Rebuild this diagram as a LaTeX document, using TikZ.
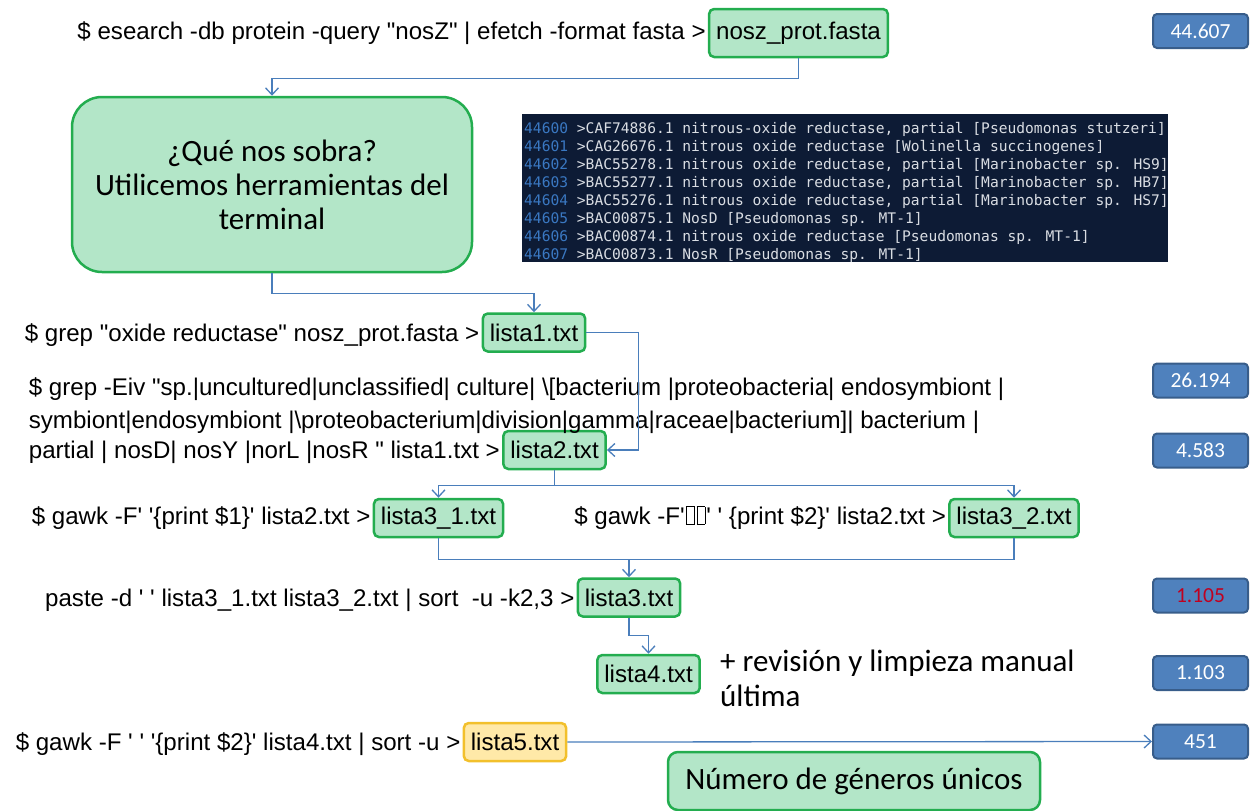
\documentclass[tikz,border=0pt]{standalone}
\usepackage{fontspec}
\setmainfont{Liberation Sans}
\newfontfamily\calfont{Carlito}
\newfontfamily\termfont{DejaVu Sans Mono}
\usetikzlibrary{arrows.meta,positioning}
\definecolor{fillgreen}{HTML}{B3E6C8}
\definecolor{edgegreen}{HTML}{23AD4F}
\definecolor{fillyellow}{HTML}{FFE9A8}
\definecolor{edgeyellow}{HTML}{F2C02C}
\definecolor{numfill}{HTML}{4F81BD}
\definecolor{numedge}{HTML}{385D8A}
\definecolor{numred}{HTML}{C00020}
\definecolor{link}{HTML}{4A7EBB}
\definecolor{termbg}{HTML}{0D1B35}
\definecolor{termnum}{HTML}{3A78C2}
\definecolor{termtxt}{HTML}{D9DDE3}
\newcommand{\sq}{\textquotesingle}
\newcommand{\dq}{\textquotedbl}
\newcommand{\tofu}{\kern1pt\vbox{\hrule height0.8pt\hbox{\vrule width0.8pt height0.7em\hskip0.3em\vrule width0.8pt}\hrule height0.8pt}\kern1pt}

\begin{document}
\begin{tikzpicture}[x=1pt,y=-1pt,
  cmd/.style={font=\fontsize{24.1}{31}\selectfont,inner sep=0pt},
  file/.style={draw=edgegreen,fill=fillgreen,line width=2.5pt,rounded corners=5pt,
               font=\fontsize{24.1}{31}\selectfont,inner xsep=7pt,minimum height=38pt},
  last/.style={file,draw=edgeyellow,fill=fillyellow},
  note/.style={draw=edgegreen,fill=fillgreen,line width=2.5pt,align=center,
               font=\calfont\fontsize{31}{34}\selectfont},
  num/.style={draw=numedge,fill=numfill,line width=2pt,rounded corners=4pt,text=white,
              minimum width=95pt,minimum height=34pt,font=\calfont\fontsize{21.5}{24}\selectfont},
  term/.style={font=\termfont\fontsize{14.6}{18}\selectfont,text=termtxt,inner sep=0pt},
  link/.style={draw=link,line width=1.3pt},
  ar/.style={link,-{Straight Barb[length=7pt,width=13pt]}}
]
\useasboundingbox (0,0) rectangle (1251,811);

% files produced at each step
\node[file,minimum height=48pt] (nosz) at (798.5,33) {nosz\_prot.fasta};
\node[file] (l1)  at (534,332.5) {lista1.txt};
\node[file] (l2)  at (554.5,450) {lista2.txt};
\node[file] (l31) at (438.5,518) {lista3\_1.txt};
\node[file] (l32) at (1014,518) {lista3\_2.txt};
\node[file] (l3)  at (629,597.5) {lista3.txt};
\node[file] (l4)  at (648.5,674) {lista4.txt};
\node[last] (l5)  at (515,742) {lista5.txt};

% commands
\node[cmd,anchor=base east] (c0) at ([xshift=-2pt]nosz.base west)
  {\$ esearch -db protein -query \dq nosZ\dq{} | efetch -format fasta >};
\node[cmd,anchor=base east] (c1) at ([xshift=-2pt]l1.base west)
  {\$ grep \dq oxide reductase\dq{} nosz\_prot.fasta >};
\node[cmd,anchor=base east] (g3) at ([xshift=-2pt]l2.base west)
  {partial | nosD| nosY |norL |nosR \dq{} lista1.txt >};
\node[cmd,anchor=base west] (g2) at ([yshift=30pt]g3.base west)
  {symbiont|endosymbiont |\textbackslash proteobacterium|division|gamma|raceae|bacterium]| bacterium |};
\node[cmd,anchor=base west] (g1) at ([yshift=33pt]g2.base west)
  {\$ grep -Eiv \dq sp.|uncultured|unclassified| culture| \textbackslash[bacterium |proteobacteria| endosymbiont |};
\node[cmd,anchor=base east] (c31) at ([xshift=-2pt]l31.base west)
  {\$ gawk -F\sq{} \sq\{print \$1\}\sq{} lista2.txt >};
\node[cmd,anchor=base east] (c32) at ([xshift=-2pt]l32.base west)
  {\$ gawk -F\sq\tofu\tofu\sq{} \sq{} \{print \$2\}\sq{} lista2.txt >};
\node[cmd,anchor=base east] (c3) at ([xshift=-2pt]l3.base west)
  {paste -d \sq{} \sq{} lista3\_1.txt lista3\_2.txt | sort\ \ -u -k2,3 >};
\node[cmd,anchor=base east] (c5) at ([xshift=-2pt]l5.base west)
  {\$ gawk -F \sq{} \sq{} \sq\{print \$2\}\sq{} lista4.txt | sort -u >};

% comments
\node[note,rounded corners=30pt,minimum width=400pt,minimum height=175pt] (qbox) at (272,184.5)
  {¿Qué nos sobra?\\Utilicemos herramientas del\\terminal};
\node[note,rounded corners=10pt,minimum width=372pt,minimum height=58pt] (genus) at (854,781)
  {Número de géneros únicos};
\node[anchor=west,align=left,inner sep=0pt,font=\calfont\fontsize{31}{35}\selectfont] (rev) at (720,678)
  {+ revisión y limpieza manual\\última};

% terminal output
\fill[termbg] (522,114) rectangle (1168,262);
\foreach \k/\txt [count=\i from 0] in {
  44600/{>CAF74886.1 nitrous-oxide reductase, partial [Pseudomonas stutzeri]},
  44601/{>CAG26676.1 nitrous oxide reductase [Wolinella succinogenes]},
  44602/{>BAC55278.1 nitrous oxide reductase, partial [Marinobacter sp. HS9]},
  44603/{>BAC55277.1 nitrous oxide reductase, partial [Marinobacter sp. HB7]},
  44604/{>BAC55276.1 nitrous oxide reductase, partial [Marinobacter sp. HS7]},
  44605/{>BAC00875.1 NosD [Pseudomonas sp. MT-1]},
  44606/{>BAC00874.1 nitrous oxide reductase [Pseudomonas sp. MT-1]},
  44607/{>BAC00873.1 NosR [Pseudomonas sp. MT-1]}}
  \node[term,anchor=west] (t\i) at (524,129+18*\i) {{\color{termnum}\k} \txt};

% counts
\node[num] (n1) at (1200.5,31) {44.607};
\node[num] (n2) at (1200.5,380.5) {26.194};
\node[num] (n3) at (1200.5,450.5) {4.583};
\node[num] (n4) at (1200.5,595.5) {\textcolor{numred}{1.105}};
\node[num] (n5) at (1200.5,673) {1.103};
\node[num] (n451) at (1200.5,741.5) {451};

\draw[ar] (nosz.south) -- ++(0,20) -| (qbox.north);
\draw[ar] (qbox.south) -- ++(0,20) -| (l1.north);
\draw[ar] (l1.east) -- ++(52,0) |- (l2.east);
\draw[link] (l2.south) -- ++(0,15) coordinate (fork);
\draw[ar] (fork) -| (l31.north);
\draw[ar] (fork) -| (l32.north);
\draw[link] (l31.south) -- ++(0,21) coordinate (join) -| (l32.south);
\draw[ar] (join -| l3.north) -- (l3.north);
\draw[ar] (l3.south) -- ++(0,18) -| (l4.north);
\draw[ar] (l5.east) -- (n451.west);
\end{tikzpicture}
\end{document}
